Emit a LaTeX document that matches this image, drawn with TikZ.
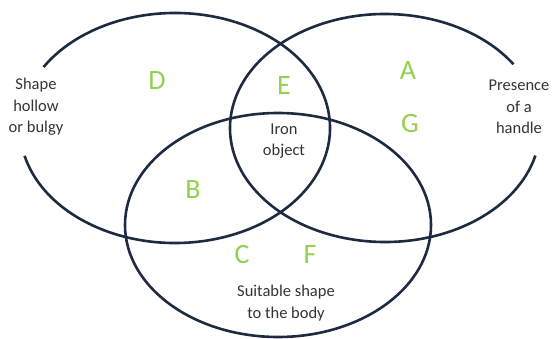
\documentclass[tikz,border=0pt]{standalone}
\usepackage{fontspec}
\setmainfont{Carlito}
\definecolor{venngreen}{HTML}{92D050}
\definecolor{venndark}{HTML}{1E2A42}
\definecolor{venntext}{HTML}{333333}

\begin{document}
\begin{tikzpicture}[
x=1pt,y=1pt,
ring/.style={draw=venndark,line width=2.6pt},
lbl/.style={text=venngreen,font=\fontsize{28}{28}\selectfont,inner sep=0pt},
txt/.style={text=venntext,font=\fontsize{16.5}{21.5}\selectfont,align=center,inner sep=0pt}
]
\useasboundingbox (0,0) rectangle (554,338);

% the three sets
\draw[ring] (175,210) ++(-166:155 and 115) arc[start angle=-166,end angle=148,x radius=155,y radius=115];
\draw[ring] (385,210) ++(34:155 and 114) arc[start angle=34,end angle=346,x radius=155,y radius=114];
\draw[ring] (278,113) ellipse[x radius=153,y radius=112];

% set names
\node[txt] (hollow) at (36,231) {Shape\\hollow\\or bulgy};
\node[txt] (handle) at (519,231) {Presence\\of a\\handle};
\node[txt] (iron)   at (284,197) {Iron\\object};
\node[txt] (body)   at (286,35)  {Suitable shape\\to the body};

% regions
\node[lbl] (regD) at (157,257) {D};
\node[lbl] (regE) at (284,252) {E};
\node[lbl] (regA) at (408,267) {A};
\node[lbl] (regG) at (410,214) {G};
\node[lbl] (regB) at (193,148) {B};
\node[lbl] (regC) at (242,83)  {C};
\node[lbl] (regF) at (310,83)  {F};
\end{tikzpicture}
\end{document}
